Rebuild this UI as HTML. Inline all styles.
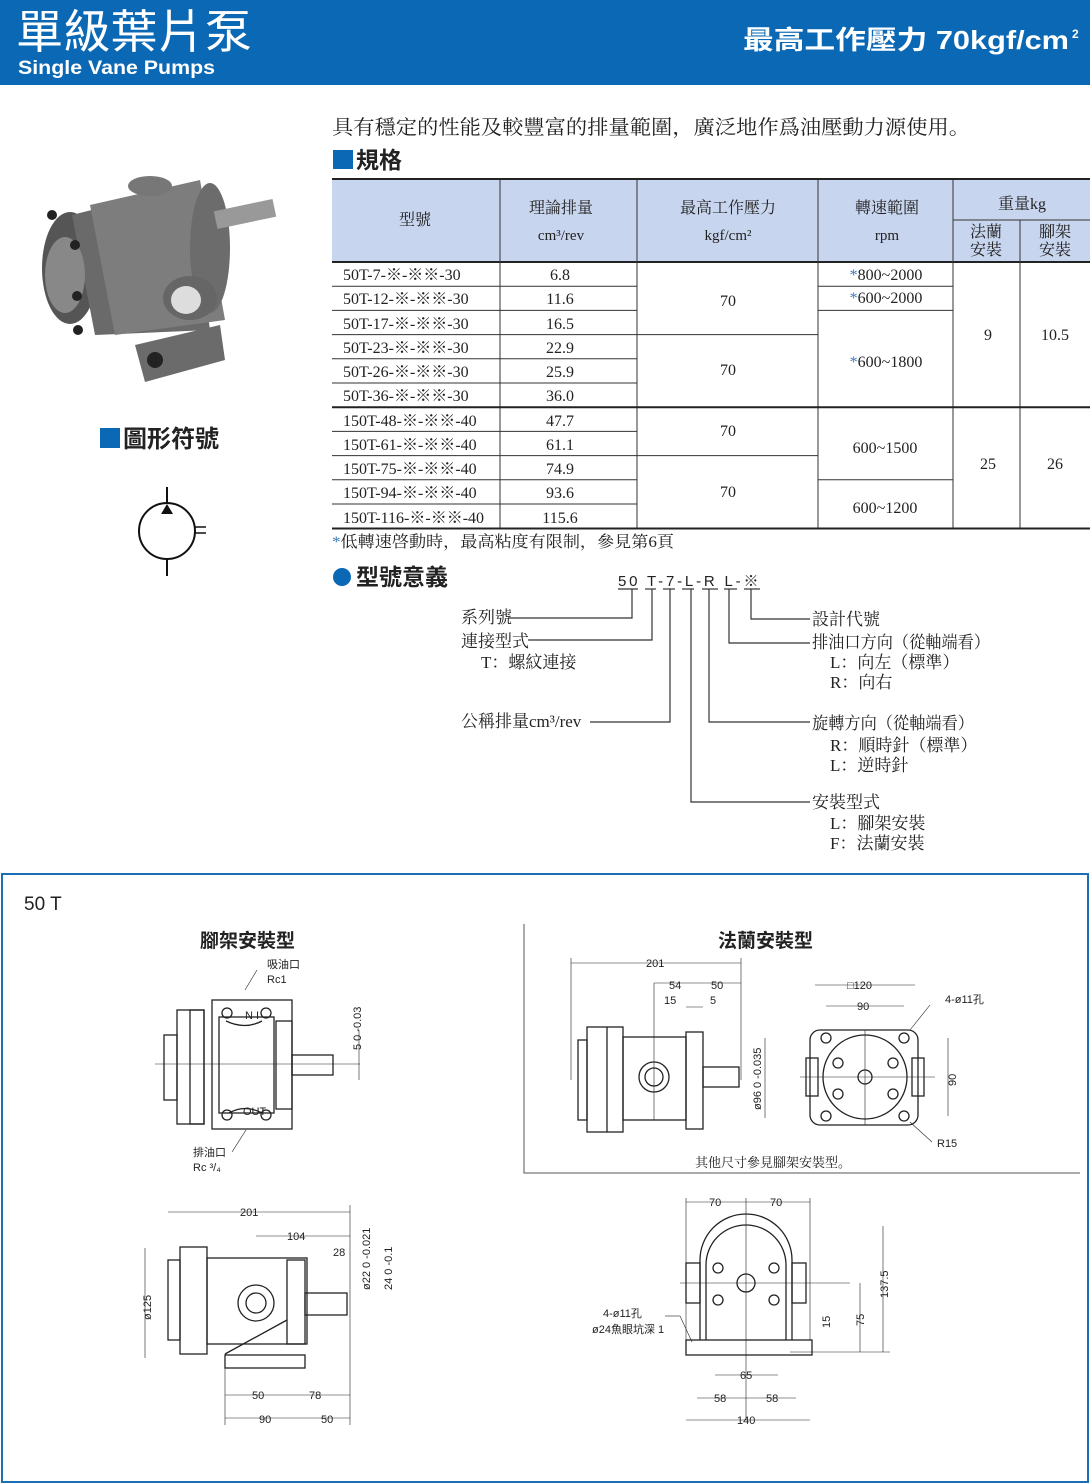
<!DOCTYPE html>
<html><head><meta charset="utf-8"><style>
html,body{margin:0;padding:0;background:#fff}
svg{display:block}
text{font-family:"Liberation Serif","Noto Serif CJK SC","Noto Sans CJK TC",serif;fill:#222}
.s{font-family:"Liberation Sans","Noto Sans CJK TC",sans-serif}
.d{font-family:"Liberation Sans","Noto Sans CJK TC",sans-serif;font-size:11px;fill:#222}
</style></head><body>
<svg width="1090" height="1484" viewBox="0 0 1090 1484" xmlns="http://www.w3.org/2000/svg">
<!-- header -->
<rect x="0" y="0" width="1090" height="85" fill="#0b68b4"/>
<text class="s" x="16" y="48" font-size="46" textLength="236" lengthAdjust="spacingAndGlyphs" style="fill:#fff">單級葉片泵</text>
<text class="s" x="18" y="74" font-size="19" font-weight="bold" textLength="197" lengthAdjust="spacingAndGlyphs" style="fill:#fff">Single Vane Pumps</text>
<text class="s" x="743" y="49" font-size="26" font-weight="bold" textLength="326" lengthAdjust="spacingAndGlyphs" style="fill:#fff">最高工作壓力  70kgf/cm</text>
<text class="s" x="1072" y="38" font-size="12" font-weight="bold" style="fill:#fff">2</text>

<text x="332" y="134" font-size="20" textLength="638" lengthAdjust="spacingAndGlyphs">具有穩定的性能及較豐富的排量範圍，廣泛地作爲油壓動力源使用。</text>
<rect x="333" y="150" width="20" height="19" fill="#0b68b4"/>
<text class="s" x="356" y="168" font-size="23" font-weight="bold">規格</text>

<!-- pump photo -->
<g>
<ellipse cx="70" cy="268" rx="28" ry="56" fill="#555"/>
<path d="M72 215 L190 185 L210 330 L95 335 Z" fill="#6a6a6a"/>
<path d="M90 205 L200 180 L225 320 L115 335 Z" fill="#7d7d7d"/>
<ellipse cx="210" cy="248" rx="20" ry="65" fill="#6c6c6c"/>
<rect x="215" y="205" width="60" height="18" fill="#999" transform="rotate(-12 245 214)"/>
<ellipse cx="190" cy="298" rx="27" ry="22" fill="#666"/>
<ellipse cx="186" cy="300" rx="15" ry="14" fill="#ddd"/>
<path d="M135 345 L220 325 L225 360 L145 382 Z" fill="#6b6b6b"/>
<circle cx="155" cy="360" r="8" fill="#222"/>
<ellipse cx="150" cy="186" rx="22" ry="10" fill="#777"/>
<ellipse cx="65" cy="275" rx="20" ry="38" fill="#888"/>
<circle cx="52" cy="215" r="5" fill="#222"/><circle cx="75" cy="245" r="5" fill="#222"/><circle cx="77" cy="296" r="5" fill="#222"/><circle cx="78" cy="330" r="5" fill="#222"/>
</g>

<rect x="100" y="428" width="20" height="20" fill="#0b68b4"/>
<text class="s" x="123" y="447" font-size="24" font-weight="bold">圖形符號</text>
<!-- symbol -->
<circle cx="167" cy="531" r="28" fill="none" stroke="#111" stroke-width="2"/>
<line x1="167" y1="487" x2="167" y2="503" stroke="#111" stroke-width="2"/>
<line x1="167" y1="559" x2="167" y2="576" stroke="#111" stroke-width="2"/>
<polygon points="161,514 173,514 167,504" fill="#111"/>
<line x1="195" y1="527" x2="206" y2="527" stroke="#111" stroke-width="1.5"/>
<line x1="195" y1="533" x2="206" y2="533" stroke="#111" stroke-width="1.5"/>

<!-- table -->
<rect x="332" y="180" width="758" height="82" fill="#c8d5ee"/>
<line x1="332" y1="179" x2="1090" y2="179" stroke="#222" stroke-width="2"/>
<line x1="332" y1="262" x2="1090" y2="262" stroke="#222" stroke-width="2"/>
<line x1="953" y1="220" x2="1090" y2="220" stroke="#333" stroke-width="1"/>
<g stroke="#333" stroke-width="1">
<line x1="500" y1="180" x2="500" y2="528"/><line x1="637" y1="180" x2="637" y2="528"/>
<line x1="818" y1="180" x2="818" y2="528"/><line x1="953" y1="180" x2="953" y2="528"/>
<line x1="1020" y1="220" x2="1020" y2="528"/>
<line x1="332" y1="286.2" x2="637" y2="286.2"/><line x1="332" y1="310.4" x2="637" y2="310.4"/>
<line x1="332" y1="334.6" x2="818" y2="334.6"/><line x1="332" y1="358.8" x2="637" y2="358.8"/>
<line x1="332" y1="383" x2="637" y2="383"/>
<line x1="332" y1="431.4" x2="637" y2="431.4"/><line x1="332" y1="455.6" x2="818" y2="455.6"/>
<line x1="332" y1="479.8" x2="637" y2="479.8"/><line x1="332" y1="504" x2="637" y2="504"/>
<line x1="818" y1="286.2" x2="953" y2="286.2"/><line x1="818" y1="310.4" x2="953" y2="310.4"/>
<line x1="818" y1="479.8" x2="953" y2="479.8"/>
</g>
<line x1="332" y1="407.2" x2="1090" y2="407.2" stroke="#222" stroke-width="2"/>
<line x1="332" y1="528.5" x2="1090" y2="528.5" stroke="#222" stroke-width="2"/>
<g font-size="16" text-anchor="middle">
<text x="415" y="225">型號</text>
<text x="561" y="213">理論排量</text><text x="561" y="240" font-size="15">cm³/rev</text>
<text x="728" y="213">最高工作壓力</text><text x="728" y="240" font-size="15">kgf/cm²</text>
<text x="887" y="213">轉速範圍</text><text x="887" y="240" font-size="15">rpm</text>
<text x="1022" y="209">重量kg</text>
<text x="986" y="237">法蘭</text><text x="986" y="255">安裝</text>
<text x="1055" y="237">腳架</text><text x="1055" y="255">安裝</text>
</g>
<g font-size="16">
<text x="343" y="280">50T-7-※-※※-30</text>
<text x="343" y="304">50T-12-※-※※-30</text>
<text x="343" y="329">50T-17-※-※※-30</text>
<text x="343" y="353">50T-23-※-※※-30</text>
<text x="343" y="377">50T-26-※-※※-30</text>
<text x="343" y="401">50T-36-※-※※-30</text>
<text x="343" y="426">150T-48-※-※※-40</text>
<text x="343" y="450">150T-61-※-※※-40</text>
<text x="343" y="474">150T-75-※-※※-40</text>
<text x="343" y="498">150T-94-※-※※-40</text>
<text x="343" y="523">150T-116-※-※※-40</text>
</g>
<g font-size="16" text-anchor="middle">
<text x="560" y="280">6.8</text><text x="560" y="304">11.6</text><text x="560" y="329">16.5</text>
<text x="560" y="353">22.9</text><text x="560" y="377">25.9</text><text x="560" y="401">36.0</text>
<text x="560" y="426">47.7</text><text x="560" y="450">61.1</text><text x="560" y="474">74.9</text>
<text x="560" y="498">93.6</text><text x="560" y="523">115.6</text>
<text x="728" y="306">70</text><text x="728" y="375">70</text><text x="728" y="436">70</text><text x="728" y="497">70</text>
<text x="886" y="280"><tspan style="fill:#3a7ab8">*</tspan>800~2000</text>
<text x="886" y="303"><tspan style="fill:#3a7ab8">*</tspan>600~2000</text>
<text x="886" y="367"><tspan style="fill:#3a7ab8">*</tspan>600~1800</text>
<text x="885" y="453">600~1500</text><text x="885" y="513">600~1200</text>
<text x="988" y="340">9</text><text x="1055" y="340">10.5</text>
<text x="988" y="469">25</text><text x="1055" y="469">26</text>
</g>
<text x="332" y="547" font-size="16" textLength="342" lengthAdjust="spacingAndGlyphs"><tspan style="fill:#3a7ab8">*</tspan>低轉速啓動時，最高粘度有限制，參見第6頁</text>

<!-- model code -->
<circle cx="342" cy="577" r="9" fill="#0b68b4"/>
<text class="s" x="356" y="585" font-size="23" font-weight="bold">型號意義</text>
<text class="s" x="618" y="586" font-size="15" letter-spacing="1.5" textLength="142" lengthAdjust="spacing">50 T-7-L-R L-※</text>
<g stroke="#333" stroke-width="1.2" fill="none">
<line x1="618" y1="589" x2="638" y2="589"/><line x1="645" y1="589" x2="656" y2="589"/>
<line x1="663" y1="589" x2="675" y2="589"/><line x1="682" y1="589" x2="694" y2="589"/>
<line x1="702" y1="589" x2="718" y2="589"/><line x1="724" y1="589" x2="737" y2="589"/>
<line x1="744" y1="589" x2="760" y2="589"/>
<polyline points="632,589 632,618 508,618"/>
<polyline points="652,589 652,640 528,640"/>
<polyline points="670,589 670,722 590,722"/>
<polyline points="691,589 691,802 810,802"/>
<polyline points="709,589 709,722 810,722"/>
<polyline points="729,589 729,643 810,643"/>
<polyline points="751,589 751,619 810,619"/>
</g>
<g font-size="17">
<text x="461" y="623">系列號</text>
<text x="461" y="647">連接型式</text>
<text x="481" y="668">T：螺紋連接</text>
<text x="461" y="727">公稱排量cm³/rev</text>
<text x="812" y="625">設計代號</text>
<text x="812" y="648" textLength="178" lengthAdjust="spacingAndGlyphs">排油口方向（從軸端看）</text>
<text x="830" y="668">L：向左（標準）</text>
<text x="830" y="688">R：向右</text>
<text x="812" y="729" textLength="162" lengthAdjust="spacingAndGlyphs">旋轉方向（從軸端看）</text>
<text x="830" y="751">R：順時針（標準）</text>
<text x="830" y="771">L：逆時針</text>
<text x="812" y="808">安裝型式</text>
<text x="830" y="829">L：腳架安裝</text>
<text x="830" y="849">F：法蘭安裝</text>
</g>

<!-- bottom frame -->
<rect x="2" y="874" width="1086" height="608" fill="none" stroke="#1a6fb5" stroke-width="2"/>
<text class="s" x="24" y="910" font-size="19">50 T</text>
<text class="s" x="200" y="947" font-size="19" font-weight="bold">腳架安裝型</text>
<text class="s" x="718" y="947" font-size="19" font-weight="bold">法蘭安裝型</text>
<polyline points="524,924 524,1173 1080,1173" fill="none" stroke="#555" stroke-width="1"/>

<g fill="none" stroke="#222" stroke-width="1.3">
<rect x="177" y="1010" width="27" height="114"/><rect x="190" y="1010" width="14" height="114"/>
<rect x="164" y="1035" width="13" height="65"/>
<rect x="212" y="1000" width="80" height="129"/>
<rect x="219" y="1017" width="55" height="96"/>
<rect x="276" y="1021" width="16" height="88"/>
<rect x="292" y="1055" width="41" height="20"/>
<circle cx="227" cy="1013" r="5"/><circle cx="266" cy="1013" r="5"/>
<circle cx="227" cy="1115" r="5"/><circle cx="266" cy="1115" r="5"/>
<path d="M226 1021 Q245 1030 262 1021"/><path d="M229 1113 Q245 1104 262 1113"/>
<line x1="155" y1="1064" x2="360" y2="1064" stroke-width=".6"/>
<line x1="245" y1="990" x2="257" y2="970" stroke-width=".6"/>
<line x1="246" y1="1130" x2="232" y2="1152" stroke-width=".6"/>
<line x1="359" y1="1030" x2="359" y2="1080" stroke-width=".6"/>
</g>
<text class="d" x="267" y="968">吸油口</text><text class="d" x="267" y="983">Rc1</text>
<text class="d" x="193" y="1156">排油口</text><text class="d" x="193" y="1171">Rc ³/₄</text>
<text class="d" x="245" y="1019" font-size="8">N I</text><text class="d" x="243" y="1115" font-size="8">OUT</text>
<text class="d" x="0" y="0" transform="translate(361,1050) rotate(-90)">5  0 -0.03</text>

<g fill="none" stroke="#222" stroke-width="1.3">
<rect x="587" y="1027" width="36" height="105"/><line x1="607" y1="1027" x2="607" y2="1132"/>
<rect x="578" y="1040" width="9" height="80"/>
<rect x="623" y="1037" width="63" height="83"/>
<rect x="686" y="1032" width="17" height="97"/>
<rect x="703" y="1067" width="36" height="20"/>
<circle cx="654" cy="1077" r="15"/><circle cx="654" cy="1077" r="9"/>
<line x1="571" y1="958" x2="571" y2="1080" stroke-width=".6"/><line x1="741" y1="958" x2="741" y2="1080" stroke-width=".6"/>
<line x1="571" y1="963" x2="741" y2="963" stroke-width=".6"/>
<line x1="654" y1="983" x2="741" y2="983" stroke-width=".6"/><line x1="654" y1="983" x2="654" y2="1120" stroke-width=".6"/>
<line x1="686" y1="1007" x2="703" y2="1007" stroke-width=".6"/>
<line x1="765" y1="1038" x2="765" y2="1118" stroke-width=".6"/>
<path d="M820 1030 h88 a10 10 0 0 1 10 10 v75 a10 10 0 0 1 -10 10 h-88 a10 10 0 0 1 -10 -10 v-75 a10 10 0 0 1 10 -10z"/>
<circle cx="865" cy="1077" r="42"/><circle cx="865" cy="1077" r="7"/>
<circle cx="826" cy="1038" r="5"/><circle cx="904" cy="1038" r="5"/><circle cx="826" cy="1116" r="5"/><circle cx="904" cy="1116" r="5"/>
<circle cx="838" cy="1063" r="5"/><circle cx="893" cy="1063" r="5"/><circle cx="838" cy="1094" r="5"/><circle cx="893" cy="1094" r="5"/>
<rect x="806" y="1058" width="12" height="38"/><rect x="912" y="1058" width="12" height="38"/>
<line x1="815" y1="985" x2="915" y2="985" stroke-width=".6"/><line x1="826" y1="1006" x2="904" y2="1006" stroke-width=".6"/>
<line x1="800" y1="1077" x2="935" y2="1077" stroke-width=".6"/><line x1="865" y1="1030" x2="865" y2="1125" stroke-width=".6"/>
<line x1="948" y1="1038" x2="948" y2="1116" stroke-width=".6"/>
<line x1="910" y1="1030" x2="930" y2="1005" stroke-width=".6"/>
<line x1="910" y1="1122" x2="932" y2="1142" stroke-width=".6"/>
</g>
<text class="d" x="646" y="967">201</text><text class="d" x="669" y="989">54</text><text class="d" x="711" y="989">50</text>
<text class="d" x="664" y="1004">15</text><text class="d" x="710" y="1004">5</text>
<text class="d" x="0" y="0" transform="translate(761,1110) rotate(-90)">ø96  0 -0.035</text>
<text class="d" x="847" y="989">□120</text><text class="d" x="857" y="1010">90</text>
<text class="d" x="945" y="1003">4-ø11孔</text><text class="d" x="937" y="1147">R15</text>
<text class="d" x="0" y="0" transform="translate(956,1086) rotate(-90)">90</text>
<text x="695" y="1167" font-size="13">其他尺寸參見腳架安裝型。</text>

<g fill="none" stroke="#222" stroke-width="1.3">
<rect x="168" y="1260" width="12" height="80"/>
<rect x="180" y="1247" width="27" height="107"/>
<rect x="207" y="1258" width="100" height="86"/>
<rect x="287" y="1260" width="18" height="84"/>
<rect x="305" y="1293" width="42" height="22"/>
<circle cx="256" cy="1303" r="18"/><circle cx="256" cy="1303" r="10"/>
<rect x="225" y="1355" width="80" height="13"/>
<line x1="225" y1="1354" x2="287" y2="1320"/>
<line x1="168" y1="1212" x2="350" y2="1212" stroke-width=".6"/>
<line x1="256" y1="1236" x2="350" y2="1236" stroke-width=".6"/>
<line x1="145" y1="1248" x2="145" y2="1358" stroke-width=".6"/>
<line x1="225" y1="1395" x2="350" y2="1395" stroke-width=".6"/>
<line x1="225" y1="1418" x2="350" y2="1418" stroke-width=".6"/>
<line x1="350" y1="1205" x2="350" y2="1425" stroke-width=".6"/>
<line x1="225" y1="1368" x2="225" y2="1425" stroke-width=".6"/>
</g>
<text class="d" x="240" y="1216">201</text><text class="d" x="287" y="1240">104</text>
<text class="d" x="333" y="1256">28</text>
<text class="d" x="0" y="0" transform="translate(151,1320) rotate(-90)">ø125</text>
<text class="d" x="0" y="0" transform="translate(370,1290) rotate(-90)">ø22  0 -0.021</text>
<text class="d" x="0" y="0" transform="translate(392,1290) rotate(-90)">24  0 -0.1</text>
<text class="d" x="252" y="1399">50</text><text class="d" x="309" y="1399">78</text>
<text class="d" x="259" y="1423">90</text><text class="d" x="321" y="1423">50</text>

<g fill="none" stroke="#222" stroke-width="1.3">
<path d="M700 1340 L700 1260 A46 46 0 0 1 792 1260 L792 1340"/>
<path d="M706 1340 L706 1265 A40 40 0 0 1 786 1265 L786 1340"/>
<rect x="686" y="1340" width="126" height="15"/>
<rect x="686" y="1263" width="14" height="40"/><rect x="792" y="1263" width="14" height="40"/>
<circle cx="746" cy="1283" r="9"/>
<circle cx="718" cy="1268" r="5"/><circle cx="774" cy="1268" r="5"/><circle cx="718" cy="1300" r="5"/><circle cx="774" cy="1300" r="5"/>
<line x1="686" y1="1202" x2="810" y2="1202" stroke-width=".6"/>
<line x1="686" y1="1198" x2="686" y2="1340" stroke-width=".6"/><line x1="810" y1="1198" x2="810" y2="1340" stroke-width=".6"/>
<line x1="746" y1="1198" x2="746" y2="1420" stroke-width=".6"/>
<line x1="680" y1="1283" x2="850" y2="1283" stroke-width=".6"/>
<line x1="715" y1="1375" x2="778" y2="1375" stroke-width=".6"/>
<line x1="697" y1="1398" x2="796" y2="1398" stroke-width=".6"/>
<line x1="686" y1="1420" x2="810" y2="1420" stroke-width=".6"/>
<line x1="883" y1="1226" x2="883" y2="1352" stroke-width=".6"/>
<line x1="860" y1="1283" x2="860" y2="1352" stroke-width=".6"/>
<line x1="790" y1="1352" x2="890" y2="1352" stroke-width=".6"/>
<line x1="665" y1="1316" x2="680" y2="1316" stroke-width=".6"/>
<line x1="680" y1="1316" x2="692" y2="1342" stroke-width=".6"/>
</g>
<text class="d" x="709" y="1206">70</text><text class="d" x="770" y="1206">70</text>
<text class="d" x="740" y="1379">65</text><text class="d" x="714" y="1402">58</text><text class="d" x="766" y="1402">58</text>
<text class="d" x="737" y="1424">140</text>
<text class="d" x="0" y="0" transform="translate(888,1298) rotate(-90)">137.5</text>
<text class="d" x="0" y="0" transform="translate(864,1326) rotate(-90)">75</text>
<text class="d" x="0" y="0" transform="translate(830,1328) rotate(-90)">15</text>
<text class="d" x="603" y="1317">4-ø11孔</text>
<text class="d" x="592" y="1333">ø24魚眼坑深 1</text>
</svg>
</body></html>
